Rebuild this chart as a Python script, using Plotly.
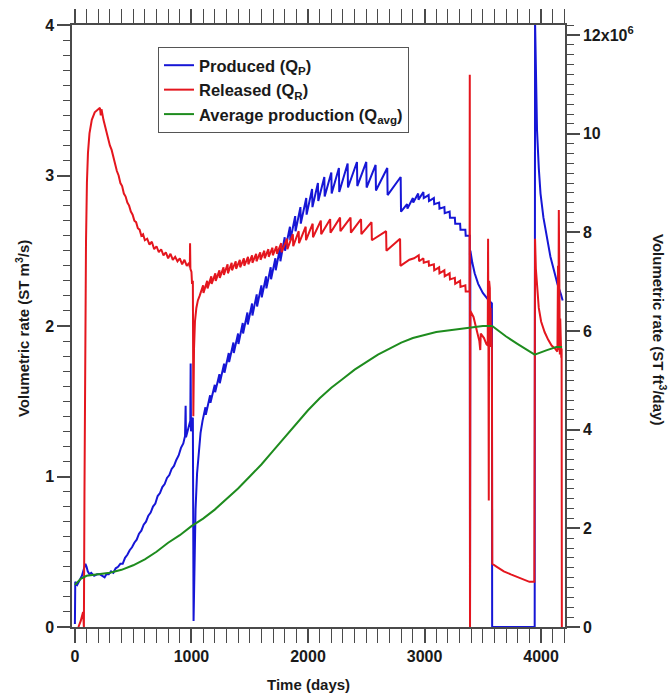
import plotly.graph_objects as go

# Rates in standard m3/s versus time in days
PRODUCED = [
    (0, 0.02), (3, 0.30), (20, 0.28), (40, 0.31), (60, 0.34), (75, 0.38), (90, 0.42), (100, 0.40),
    (110, 0.37), (125, 0.35), (140, 0.36), (165, 0.34), (190, 0.35), (215, 0.35), (240, 0.34),
    (255, 0.33), (270, 0.35), (290, 0.35), (310, 0.37), (330, 0.36), (350, 0.39), (370, 0.40),
    (390, 0.42), (410, 0.42), (430, 0.46), (450, 0.48), (470, 0.51), (490, 0.53), (510, 0.56),
    (530, 0.58), (550, 0.62), (570, 0.64), (590, 0.68), (610, 0.70), (630, 0.74), (650, 0.76),
    (670, 0.80), (690, 0.82), (710, 0.87), (730, 0.89), (750, 0.93), (770, 0.95), (790, 0.99),
    (810, 1.01), (830, 1.05), (850, 1.07), (870, 1.11), (890, 1.14), (910, 1.19), (930, 1.22),
    (945, 1.27), (950, 1.47), (953, 1.26), (970, 1.31), (985, 1.35), (990, 1.37), (993, 1.75),
    (996, 1.30), (1003, 1.38), (1012, 1.39), (1018, 0.04),
    (1026, 0.45), (1035, 0.78), (1048, 1.02), (1062, 1.18), (1078, 1.29), (1095, 1.37),
    (1120, 1.46), (1123, 1.41), (1160, 1.54), (1163, 1.49), (1200, 1.61), (1203, 1.56),
    (1240, 1.68), (1243, 1.62), (1280, 1.75), (1283, 1.69), (1320, 1.82), (1323, 1.76),
    (1360, 1.89), (1363, 1.82), (1400, 1.95), (1403, 1.88), (1440, 2.02), (1443, 1.95),
    (1480, 2.09), (1483, 2.01), (1520, 2.15), (1523, 2.07), (1560, 2.21), (1563, 2.13),
    (1600, 2.27), (1603, 2.19), (1640, 2.33), (1643, 2.25), (1680, 2.39), (1683, 2.31),
    (1720, 2.45), (1723, 2.37), (1760, 2.52), (1763, 2.43), (1800, 2.59), (1803, 2.50),
    (1845, 2.66), (1848, 2.57), (1890, 2.73), (1893, 2.63), (1935, 2.79), (1938, 2.68),
    (1985, 2.85), (1988, 2.74), (2035, 2.91), (2038, 2.79), (2085, 2.95), (2088, 2.83),
    (2140, 2.99), (2143, 2.86), (2200, 3.02), (2203, 2.88), (2265, 3.05), (2268, 2.89),
    (2340, 3.08), (2343, 2.92), (2420, 3.09), (2423, 2.93), (2500, 3.09), (2503, 2.92),
    (2580, 3.07), (2583, 2.90), (2680, 3.05), (2683, 2.87), (2795, 2.99), (2798, 2.76),
    (2850, 2.81), (2853, 2.78), (2900, 2.85), (2903, 2.82), (2945, 2.88), (2948, 2.84),
    (2990, 2.89), (2993, 2.85), (3035, 2.87), (3038, 2.83), (3080, 2.85), (3083, 2.81),
    (3125, 2.82), (3128, 2.78), (3170, 2.79), (3173, 2.75), (3215, 2.76), (3218, 2.72),
    (3260, 2.72), (3263, 2.68), (3305, 2.68), (3308, 2.64), (3350, 2.64), (3353, 2.60),
    (3388, 2.60), (3390, 0.0), (3393, 2.50),
    (3410, 2.42), (3430, 2.35), (3460, 2.28), (3500, 2.22), (3540, 2.18), (3578, 2.15),
    (3580, 0.0), (3945, 0.0), (3948, 4.03), (3955, 3.60), (3965, 3.30), (3980, 3.05),
    (3995, 2.88), (4020, 2.72), (4050, 2.58), (4080, 2.46), (4110, 2.37), (4140, 2.28),
    (4170, 2.21), (4185, 2.17),
]

RELEASED = [
    (30, 0.0), (50, 0.04), (70, 0.10), (77, 0.0), (82, 0.9), (88, 1.9), (95, 2.55), (103, 2.95),
    (112, 3.15), (125, 3.28), (145, 3.37), (170, 3.42), (195, 3.44), (215, 3.45), (222, 3.40),
    (228, 3.44), (245, 3.37), (265, 3.30), (285, 3.25), (300, 3.20), (315, 3.17), (330, 3.12),
    (345, 3.09), (360, 3.03), (375, 3.00), (390, 2.95), (405, 2.93), (420, 2.88), (435, 2.86),
    (450, 2.82), (465, 2.80), (480, 2.76), (495, 2.74), (510, 2.70), (525, 2.69), (540, 2.65),
    (555, 2.64), (570, 2.60), (585, 2.61), (600, 2.57), (620, 2.58), (640, 2.54), (660, 2.56),
    (680, 2.51), (700, 2.53), (720, 2.49), (740, 2.51), (760, 2.47), (780, 2.49), (800, 2.45),
    (820, 2.48), (840, 2.44), (860, 2.46), (880, 2.43), (900, 2.45), (920, 2.41), (940, 2.44),
    (960, 2.40), (980, 2.42), (986, 2.39), (988, 2.55), (991, 2.38), (1000, 2.36), (1005, 2.28),
    (1012, 2.30), (1016, 1.40), (1022, 1.85), (1030, 2.03), (1042, 2.12), (1055, 2.17),
    (1070, 2.20), (1085, 2.23),
    (1100, 2.27), (1103, 2.22), (1135, 2.30), (1138, 2.25), (1170, 2.33), (1173, 2.28),
    (1205, 2.35), (1208, 2.30), (1240, 2.37), (1243, 2.32), (1275, 2.39), (1278, 2.34),
    (1310, 2.41), (1313, 2.35), (1345, 2.42), (1348, 2.37), (1380, 2.43), (1383, 2.38),
    (1415, 2.44), (1418, 2.39), (1450, 2.45), (1453, 2.40), (1485, 2.46), (1488, 2.41),
    (1520, 2.47), (1523, 2.42), (1555, 2.48), (1558, 2.43), (1590, 2.49), (1593, 2.44),
    (1625, 2.50), (1628, 2.45), (1660, 2.51), (1663, 2.46), (1695, 2.52), (1698, 2.47),
    (1730, 2.53), (1733, 2.48), (1770, 2.55), (1773, 2.49), (1820, 2.58), (1823, 2.51),
    (1870, 2.61), (1873, 2.53), (1920, 2.63), (1923, 2.55), (1980, 2.66), (1983, 2.57),
    (2040, 2.68), (2043, 2.59), (2110, 2.70), (2113, 2.61), (2190, 2.71), (2193, 2.62),
    (2275, 2.72), (2278, 2.63), (2365, 2.72), (2368, 2.62), (2455, 2.71), (2458, 2.61),
    (2545, 2.69), (2548, 2.57), (2670, 2.63), (2673, 2.50), (2790, 2.58), (2793, 2.40),
    (2830, 2.42), (2870, 2.44), (2910, 2.45), (2950, 2.47), (2953, 2.43), (2990, 2.45),
    (2993, 2.42), (3035, 2.43), (3038, 2.40), (3080, 2.41), (3083, 2.37), (3125, 2.39),
    (3128, 2.35), (3170, 2.37), (3173, 2.33), (3215, 2.35), (3218, 2.31), (3260, 2.32),
    (3263, 2.28), (3305, 2.30), (3308, 2.26), (3350, 2.27), (3353, 2.23), (3386, 2.23),
    (3388, 3.67), (3390, 0.0), (3393, 2.10),
    (3420, 2.06), (3450, 1.97), (3470, 1.90), (3478, 1.84), (3482, 1.95), (3510, 1.92),
    (3530, 1.88), (3542, 1.87), (3545, 2.58), (3548, 1.90), (3551, 0.84), (3554, 2.30),
    (3557, 1.85), (3560, 2.25), (3563, 1.88), (3566, 2.12), (3570, 1.86), (3574, 2.00),
    (3578, 1.85), (3581, 0.42), (3620, 0.40), (3680, 0.37), (3740, 0.35), (3800, 0.33),
    (3860, 0.31), (3900, 0.30), (3942, 0.30), (3948, 2.58), (3955, 2.38), (3965, 2.25),
    (3980, 2.12), (4000, 2.03), (4030, 1.96), (4060, 1.91), (4090, 1.87), (4120, 1.85),
    (4140, 1.83), (4145, 2.40), (4148, 1.84), (4152, 2.77), (4155, 1.82), (4158, 2.30),
    (4161, 1.81), (4164, 2.05), (4167, 1.79), (4170, 1.95), (4173, 1.79), (4176, 1.85),
    (4178, 0.0),
]

AVERAGE = [
    (0, 0.28), (50, 0.32), (100, 0.34), (200, 0.35), (300, 0.36), (400, 0.38), (500, 0.41),
    (600, 0.45), (700, 0.50), (800, 0.56), (900, 0.61), (1000, 0.67), (1100, 0.72), (1200, 0.78),
    (1300, 0.85), (1400, 0.92), (1500, 1.00), (1600, 1.08), (1700, 1.17), (1800, 1.26),
    (1900, 1.35), (2000, 1.44), (2100, 1.52), (2200, 1.59), (2300, 1.65), (2400, 1.71),
    (2500, 1.76), (2600, 1.81), (2700, 1.85), (2800, 1.89), (2900, 1.92), (3000, 1.94),
    (3100, 1.96), (3200, 1.97), (3300, 1.98), (3400, 1.99), (3500, 2.00), (3580, 2.00),
    (3700, 1.93), (3800, 1.88), (3945, 1.81), (4050, 1.84), (4130, 1.86), (4180, 1.86),
]

SERIES_NAMES = ["Produced (Q<sub>P</sub>)", "Released (Q<sub>R</sub>)",
                "Average production (Q<sub>avg</sub>)"]
SERIES_COLORS = ["#1616d6", "#e4161e", "#1e8c1e"]

X_MAJOR = [0, 1000, 2000, 3000, 4000]
X_MID = [500, 1500, 2500, 3500]
Y2_TICKS = [0, 2e6, 4e6, 6e6, 8e6, 10e6, 12e6]
Y2_TEXT = ["0", "2", "4", "6", "8", "10", "12x10<sup>6</sup>"]

# m3/s -> ft3/day
M3S_TO_FT3DAY = 86400 * 35.3147

FONT = "Liberation Sans, Arial, sans-serif"
AX = "#4a4a4a"
INK = "#1a1a1a"
X_RANGE = [-25, 4205]
Y_RANGE = [0, 4]

fig = go.Figure()
for data, name, color in zip([PRODUCED, RELEASED, AVERAGE], SERIES_NAMES, SERIES_COLORS):
    t, q = zip(*data)
    fig.add_trace(go.Scatter(x=list(t), y=list(q), mode="lines", name=name,
                             line=dict(color=color, width=2), hoverinfo="skip"))

# carriers for the secondary axes
fig.add_trace(go.Scatter(x=[None], y=[None], yaxis="y2", showlegend=False, hoverinfo="skip"))
fig.add_trace(go.Scatter(x=[None], y=[None], xaxis="x2", showlegend=False, hoverinfo="skip"))

tickfont = dict(family=FONT, size=16, color=INK, weight="bold")
titlefont = dict(family=FONT, size=15, color=INK, weight="bold")

fig.update_layout(
    width=672, height=696,
    margin=dict(l=72, r=107, t=25, b=69),
    paper_bgcolor="white", plot_bgcolor="white",
    font=dict(family=FONT, size=13, color=INK),
    showlegend=True,
    legend=dict(x=0.1744, y=0.9635, xanchor="left", yanchor="top",
                bgcolor="white", bordercolor="#555", borderwidth=1,
                font=dict(family=FONT, size=16.5, color=INK, weight="bold"),
                itemwidth=30, tracegroupgap=0),
    xaxis=dict(range=X_RANGE, showline=True, linecolor=AX, linewidth=1.5,
               ticks="outside", tickvals=X_MAJOR, ticklen=14, tickwidth=1.5, tickcolor=AX,
               mirror="allticks", showgrid=False, zeroline=False, tickfont=tickfont,
               minor=dict(dtick=100, tick0=0, ticks="outside", ticklen=7, tickwidth=1.2,
                          tickcolor=AX, showgrid=False),
               automargin=False, layer="below traces"),
    xaxis2=dict(range=X_RANGE, overlaying="x", anchor="y", side="bottom",
                showline=False, ticks="outside", tickvals=X_MID, ticklen=10.5, tickwidth=1.3,
                tickcolor=AX, mirror="allticks", showticklabels=False, showgrid=False,
                zeroline=False),
    yaxis=dict(range=Y_RANGE, showline=True, linecolor=AX, linewidth=1.5,
               ticks="outside", dtick=1, tick0=0, ticklen=13, tickwidth=1.5, tickcolor=AX,
               showgrid=False, zeroline=False, tickfont=tickfont,
               minor=dict(dtick=0.1, tick0=0, ticks="outside", ticklen=7, tickwidth=1.2,
                          tickcolor=AX, showgrid=False),
               layer="below traces"),
    yaxis2=dict(range=[Y_RANGE[0] * M3S_TO_FT3DAY, Y_RANGE[1] * M3S_TO_FT3DAY],
                overlaying="y", side="right", anchor="x",
                showline=True, linecolor=AX, linewidth=1.5,
                ticks="outside", tickvals=Y2_TICKS, ticktext=Y2_TEXT, ticklen=13,
                tickwidth=1.5, tickcolor=AX, showgrid=False, zeroline=False,
                tickfont=tickfont,
                minor=dict(dtick=0.2e6, tick0=0, ticks="outside", ticklen=7, tickwidth=1.2,
                           tickcolor=AX, showgrid=False),
                layer="below traces"),
    annotations=[
        dict(text="Time (days)", xref="paper", yref="paper",
             x=0.479, y=-0.0947, xanchor="center", yanchor="middle",
             showarrow=False, font=titlefont),
        dict(text="Volumetric rate (ST m<sup>3</sup>/s)", xref="paper", yref="paper",
             x=-0.1014, y=0.495, xanchor="center", yanchor="middle", textangle=-90,
             showarrow=False, font=titlefont),
        dict(text="Volumetric rate (ST ft<sup>3</sup>/day)", xref="paper", yref="paper",
             x=1.1927, y=0.495, xanchor="center", yanchor="middle", textangle=90,
             showarrow=False, font=titlefont),
    ],
)

fig.write_html("out.html")
